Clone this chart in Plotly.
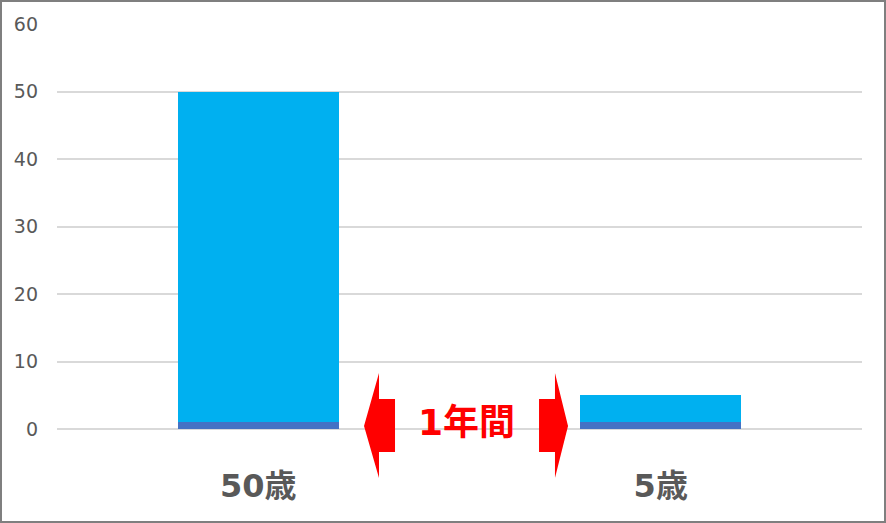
import plotly.graph_objects as go

# データ
categories = ["50歳", "5歳"]
base_values = [1, 1]
top_values = [49, 4]
y_ticks = [0, 10, 20, 30, 40, 50, 60]

W, H = 886, 523
L, R, T, B = 57, 24, 24, 94
pw, ph = W - L - R, H - T - B
FONT = "DejaVu Sans, Noto Sans CJK JP"

def px(x):
    return (x - L) / pw

def py(y):
    return (H - B - y) / ph

fig = go.Figure()
fig.add_trace(go.Bar(x=categories, y=base_values, marker_color="#4472C4",
                     marker_line_width=0, width=0.4))
fig.add_trace(go.Bar(x=categories, y=top_values, marker_color="#00B0F0",
                     marker_line_width=0, width=0.4))

# 矢印
left_arrow = [(364, 426), (379, 373), (379, 399), (395, 399), (395, 452), (379, 452), (379, 478)]
right_arrow = [(568, 426), (555, 373), (555, 399), (539, 399), (539, 452), (555, 452), (555, 478)]
for pts in (left_arrow, right_arrow):
    path = "M " + " L ".join(f"{px(a):.4f},{py(b):.4f}" for a, b in pts) + " Z"
    fig.add_shape(type="path", path=path, xref="paper", yref="paper",
                  fillcolor="#FF0000", line_width=0)

fig.add_annotation(text="<b>1年間</b>", x=px(466), y=py(422), xref="paper", yref="paper",
                   yanchor="middle", showarrow=False,
                   font=dict(size=36, color="#FF0000", family=FONT))

# 枠線
fig.add_shape(type="rect", xref="paper", yref="paper",
              x0=px(1), x1=px(885), y0=py(522), y1=py(1),
              line=dict(color="#7F7F7F", width=2), fillcolor="rgba(0,0,0,0)")

fig.update_layout(
    barmode="stack", showlegend=False, width=W, height=H,
    margin=dict(l=L, r=R, t=T, b=B),
    plot_bgcolor="white", paper_bgcolor="white",
    font=dict(family=FONT, color="#595959"),
    xaxis=dict(showgrid=False, showline=False, ticks="",
               tickfont=dict(size=32, color="#595959", family=FONT),
               tickvals=categories, ticktext=[f"<b>{c}</b>" for c in categories],
               ticklabelstandoff=35),
    yaxis=dict(range=[0, 60], tickvals=y_ticks, gridcolor="#D9D9D9", gridwidth=1.5,
               zeroline=True, zerolinecolor="#D9D9D9", zerolinewidth=1.5,
               tickfont=dict(size=19, color="#595959", family="DejaVu Sans"),
               ticklabelstandoff=18),
)

fig.write_html("out.html", config={"displayModeBar": False},
               post_script="document.body.style.margin='0';")
